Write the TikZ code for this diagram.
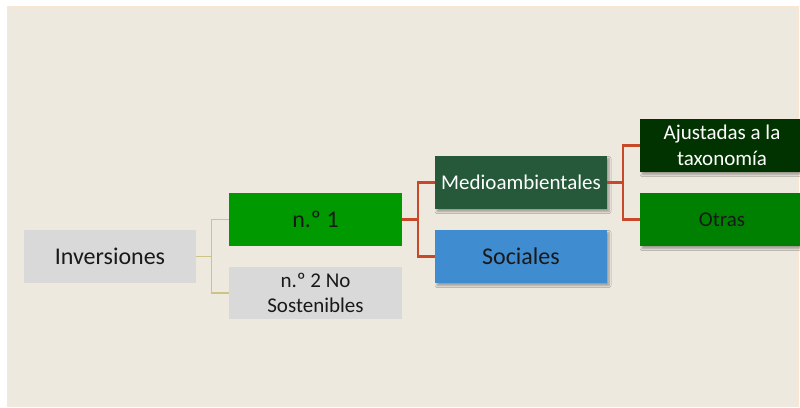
\documentclass[tikz,border=0pt]{standalone}
\usepackage{fontspec}
\setmainfont{Carlito}
\usetikzlibrary{shadows.blur}
\definecolor{bgbeige}{RGB}{237,233,223}
\definecolor{edgepeach}{RGB}{250,230,210}
\definecolor{boxgrey}{RGB}{217,217,217}
\definecolor{nonegreen}{RGB}{0,153,0}
\definecolor{mediogreen}{RGB}{37,89,58}
\definecolor{socblue}{RGB}{63,140,208}
\definecolor{ajustgreen}{RGB}{0,51,0}
\definecolor{otrasgreen}{RGB}{0,128,0}
\definecolor{khaki}{RGB}{205,195,135}
\definecolor{redline}{RGB}{200,72,42}
\begin{document}
\begin{tikzpicture}[x=1pt,y=-1pt,
  box/.style={inner sep=0pt, align=center, minimum width=172pt, minimum height=53pt, text=black!90},
  big/.style={font=\fontsize{24}{29}\selectfont},
  small/.style={font=\fontsize{21}{25.6}\selectfont},
  shad/.style={blur shadow={shadow xshift=2pt, shadow yshift=-2.5pt, shadow blur steps=6, shadow opacity=35, shadow blur radius=2pt}},
  khakiline/.style={draw=khaki, line width=1.1pt},
  redconn/.style={draw=redline, line width=2.4pt}
]
\useasboundingbox (0,0) rectangle (800,407);
\fill[white] (0,0) rectangle (800,407);
\fill[edgepeach] (7,6) rectangle (799,407);
\fill[bgbeige] (8,7) rectangle (798,407);

\node[box, big, fill=boxgrey] (inv) at (110,256.5) {Inversiones};
\node[box, big, fill=nonegreen, minimum width=173pt] (n1) at (315.5,219.5) {n.º 1};
\node[box, small, fill=boxgrey, minimum width=173pt, minimum height=52pt] (n2) at (315.5,293) {n.º 2 No\\Sostenibles};
\node[box, small, fill=mediogreen, text=white, shad] (medio) at (521,182.5) {Medioambientales};
\node[box, big, fill=socblue, shad] (soc) at (521,256.5) {Sociales};
\node[box, small, fill=ajustgreen, text=white, minimum width=164pt, shad] (ajust) at (722,145.5) {Ajustadas a la\\taxonomía};
\node[box, small, fill=otrasgreen, minimum width=164pt, shad] (otras) at (722,219.5) {Otras};

\draw[khakiline] (inv.east) -- ++(16,0);
\draw[khakiline] (n1.west) -- ++(-17,0) |- (n2.west);
\draw[redconn] (n1.east) -- ++(16,0);
\draw[redconn] (medio.west) -- ++(-17,0) |- (soc.west);
\draw[redconn] (medio.east) -- ++(16,0);
\draw[redconn] (ajust.west) -- ++(-17,0) |- (otras.west);
\end{tikzpicture}
\end{document}
